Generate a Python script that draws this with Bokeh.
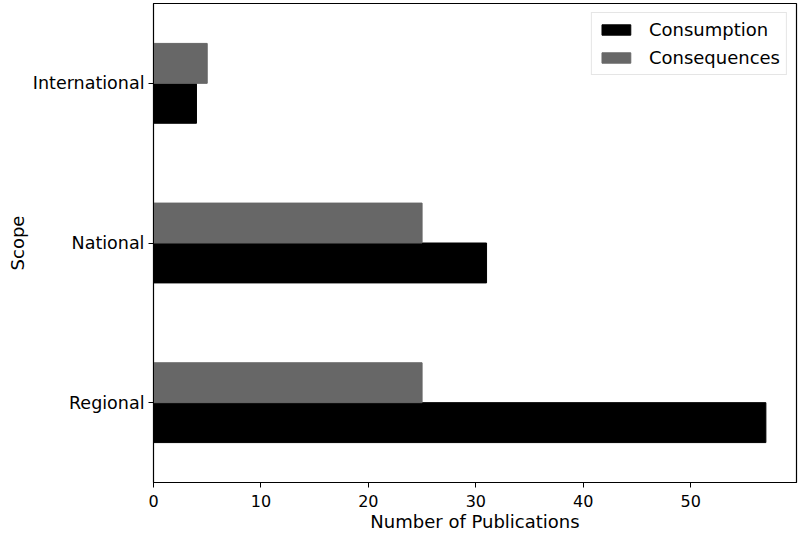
from bokeh.plotting import figure
from bokeh.models import Range1d, FixedTicker, Legend, LegendItem, ColumnDataSource
from bokeh.embed import file_html
from bokeh.resources import INLINE

categories = ["Regional", "National", "International"]
consumption = [57, 31, 4]
consequences = [25, 25, 5]
x_ticks = [0, 10, 20, 30, 40, 50]

idx = list(range(len(categories)))
FONT = "DejaVu Sans"

p = figure(width=800, height=535, output_backend="svg", toolbar_location=None,
           x_range=Range1d(0, max(consumption) * 1.05), y_range=Range1d(-0.5, len(categories) - 0.5),
           min_border_left=153, min_border_right=4, min_border_top=3, min_border_bottom=53)
p.frame_width = 643
p.frame_height = 479

src_a = ColumnDataSource(dict(y=[i - 0.125 for i in idx], v=consumption))
src_b = ColumnDataSource(dict(y=[i + 0.125 for i in idx], v=consequences))
r1 = p.hbar(y="y", right="v", left=0, height=0.25, source=src_a, color="#000000")
r2 = p.hbar(y="y", right="v", left=0, height=0.25, source=src_b, color="#676767")

p.xgrid.visible = False
p.ygrid.visible = False
p.outline_line_color = "#000000"
p.outline_line_width = 1.2

p.xaxis.ticker = FixedTicker(ticks=x_ticks)
p.yaxis.ticker = FixedTicker(ticks=idx)
p.yaxis.major_label_overrides = {i: c for i, c in zip(idx, categories)}
for ax in (p.xaxis[0], p.yaxis[0]):
    ax.minor_tick_line_color = None
    ax.major_tick_in = 0
    ax.major_tick_out = 5
    ax.axis_line_color = "#000000"
    ax.major_tick_line_color = "#000000"
    ax.major_label_text_font = FONT
    ax.major_label_text_font_size = "16px"
    ax.major_label_text_color = "#000000"
    ax.axis_label_text_font = FONT
    ax.axis_label_text_font_size = "18px"
    ax.axis_label_text_font_style = "normal"
    ax.axis_label_text_color = "#000000"

p.yaxis.major_label_text_font_size = "17.5px"
p.xaxis.axis_label = "Number of Publications"
p.yaxis.axis_label = "Scope"
p.yaxis.major_label_orientation = "horizontal"
p.xaxis.major_label_standoff = 7
p.yaxis.major_label_standoff = 4
p.xaxis.axis_label_standoff = 1
p.yaxis.axis_label_standoff = 2

legend = Legend(items=[LegendItem(label="Consumption", renderers=[r1]),
                       LegendItem(label="Consequences", renderers=[r2])],
                location="top_right")
legend.label_text_font = FONT
legend.label_text_font_size = "18px"
legend.label_text_color = "#000000"
legend.glyph_width = 36
legend.glyph_height = 13
legend.label_height = 20
legend.spacing = 7
legend.padding = 6
legend.margin = 9
legend.border_line_color = "#cccccc"
legend.border_line_width = 1
legend.label_standoff = 15
p.add_layout(legend)

open("out.html", "w").write(file_html(p, INLINE))
